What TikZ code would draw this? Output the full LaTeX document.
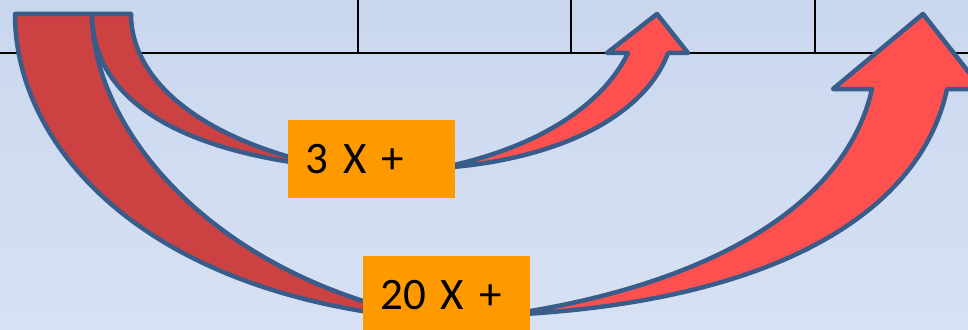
\documentclass[tikz,border=0pt]{standalone}
\usepackage{fontspec}
\setmainfont{Carlito}
\definecolor{bgtop}{RGB}{201,215,239}
\definecolor{bgbot}{RGB}{215,225,243}
\definecolor{edgeblue}{RGB}{56,93,138}
\definecolor{backred}{RGB}{204,65,65}
\definecolor{frontred}{RGB}{255,80,80}
\definecolor{boxorange}{RGB}{255,153,0}
\begin{document}
\begin{tikzpicture}[x=1pt,y=-1pt,
  ribbon/.style={draw=edgeblue, line width=4.5pt, line join=round},
  backface/.style={ribbon, fill=backred},
  frontface/.style={ribbon, fill=frontred},
  gridline/.style={draw=black, line width=2pt},
  lbl/.style={fill=boxorange, anchor=north west, inner xsep=17pt, inner ysep=0pt,
    text width=133pt, align=left, minimum height=78pt,
    text height=28.5pt, text depth=0pt, font=\fontsize{45}{54}\selectfont}]
  % background
  \shade[top color=bgtop, bottom color=bgbot] (0,0) rectangle (968,329);
  \useasboundingbox (0,0) rectangle (968,329);

  % table rules
  \draw[gridline] (0,53) -- (968,53);
  \foreach \x in {358,571,815} \draw[gridline] (\x,0) -- (\x,53);

  % large curved arrow: back face
  \draw[backface] (15,14) -- (92,14)
    .. controls (92,130) and (215,280) .. (440,320)
    .. controls (150,300) and (15,150) .. (15,14) -- cycle;
  % small curved arrow: back face
  \draw[backface] (92,14) -- (131,14)
    .. controls (131,80) and (200,140) .. (330,167)
    .. controls (180,152) and (92,100) .. (92,14) -- cycle;

  % small curved arrow: front face with head
  \draw[frontface] (440,168)
    .. controls (530,150) and (600,110) .. (628,53)
    -- (607,53) -- (657,14) -- (688,53) -- (668,53)
    .. controls (645,115) and (560,160) .. (440,168) -- cycle;
  % large curved arrow: front face with head
  \draw[frontface] (505,315)
    .. controls (700,287) and (845,210) .. (872,89)
    -- (833,89) -- (923,14) -- (982,89) -- (947,89)
    .. controls (920,215) and (770,303) .. (505,315) -- cycle;

  % labels
  \node[lbl] (small) at (288,120) {3 X +};
  \node[lbl] (large) at (363,256) {20 X +};
\end{tikzpicture}
\end{document}
